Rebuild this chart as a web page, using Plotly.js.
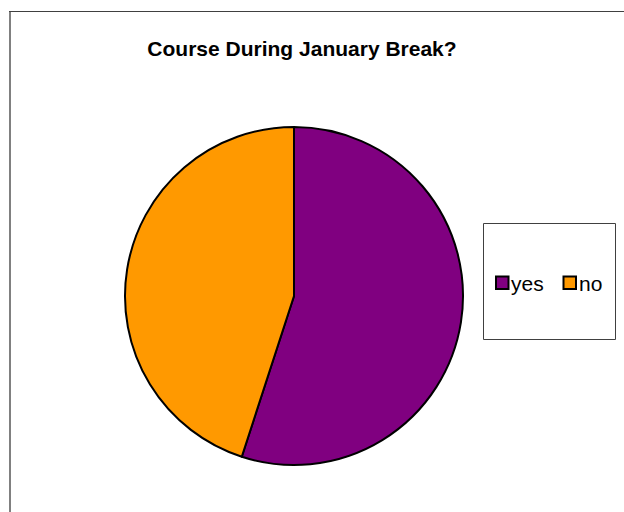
<!DOCTYPE html>
<html>
<head>
<meta charset="utf-8">
<script src="https://cdn.plot.ly/plotly-3.0.1.min.js"></script>
<style>html,body{margin:0;padding:0;background:#fff;}#chart{width:624px;height:512px;}</style>
</head>
<body>
<div id="chart"></div>
<script>
const categories = ["yes", "no"];
const values = [55, 45];
const sliceColors = ["#800080", "#FF9900"];
const chartTitle = "Course During January Break?";

const W = 624, H = 512;
const px = x => x / W;
const py = y => 1 - y / H;
const FONT = "Arial, 'Liberation Sans', sans-serif";

const data = [{
  type: "pie",
  labels: categories,
  values: values,
  sort: false,
  direction: "clockwise",
  rotation: 0,
  textinfo: "none",
  hoverinfo: "label+value+percent",
  marker: { colors: sliceColors, line: { color: "#000000", width: 2 } },
  domain: { x: [px(125), px(463)], y: [py(465), py(127)] },
  showlegend: false
}];

// Legend drawn inside a boxed frame (positions are style, entries come from the data arrays)
const legendSquareX = [496, 563.5];
const legendTextX = [509.5, 578];
const legendMidY = 282.5;
const shapes = [
  { type: "line", xref: "paper", yref: "paper", x0: px(10), x1: px(10), y0: py(11), y1: -0.05, line: { color: "#808080", width: 2 } },
  { type: "line", xref: "paper", yref: "paper", x0: px(9), x1: 1.05, y0: py(11.5), y1: py(11.5), line: { color: "#404040", width: 1 } },
  { type: "rect", xref: "paper", yref: "paper", x0: px(483.5), x1: px(615.5), y0: py(339.5), y1: py(223.5), line: { color: "#404040", width: 1 }, fillcolor: "rgba(0,0,0,0)", layer: "below" }
];
const annotations = [];
categories.forEach((c, i) => {
  shapes.push({
    type: "rect", xref: "paper", yref: "paper",
    x0: px(legendSquareX[i]), x1: px(legendSquareX[i] + 12.5),
    y0: py(legendMidY + 6.5), y1: py(legendMidY - 6),
    fillcolor: sliceColors[i], line: { color: "#000000", width: 2 }
  });
  annotations.push({
    xref: "paper", yref: "paper",
    x: px(legendTextX[i]), xanchor: "left",
    y: py(legendMidY + 1), yanchor: "middle",
    text: c, showarrow: false, borderpad: 0,
    font: { family: FONT, size: 21, color: "#000000" }
  });
});

const layout = {
  width: W, height: H,
  margin: { l: 0, r: 0, t: 0, b: 0, autoexpand: false },
  paper_bgcolor: "#ffffff",
  showlegend: false,
  font: { family: FONT, color: "#000000" },
  title: {
    text: "<b>" + chartTitle + "</b>",
    font: { family: FONT, size: 21, color: "#000000" },
    x: px(302), xanchor: "center", xref: "paper",
    y: py(48.5), yanchor: "middle", yref: "paper"
  },
  shapes: shapes,
  annotations: annotations
};

Plotly.newPlot("chart", data, layout, { displayModeBar: false, staticPlot: true });
</script>
</body>
</html>
